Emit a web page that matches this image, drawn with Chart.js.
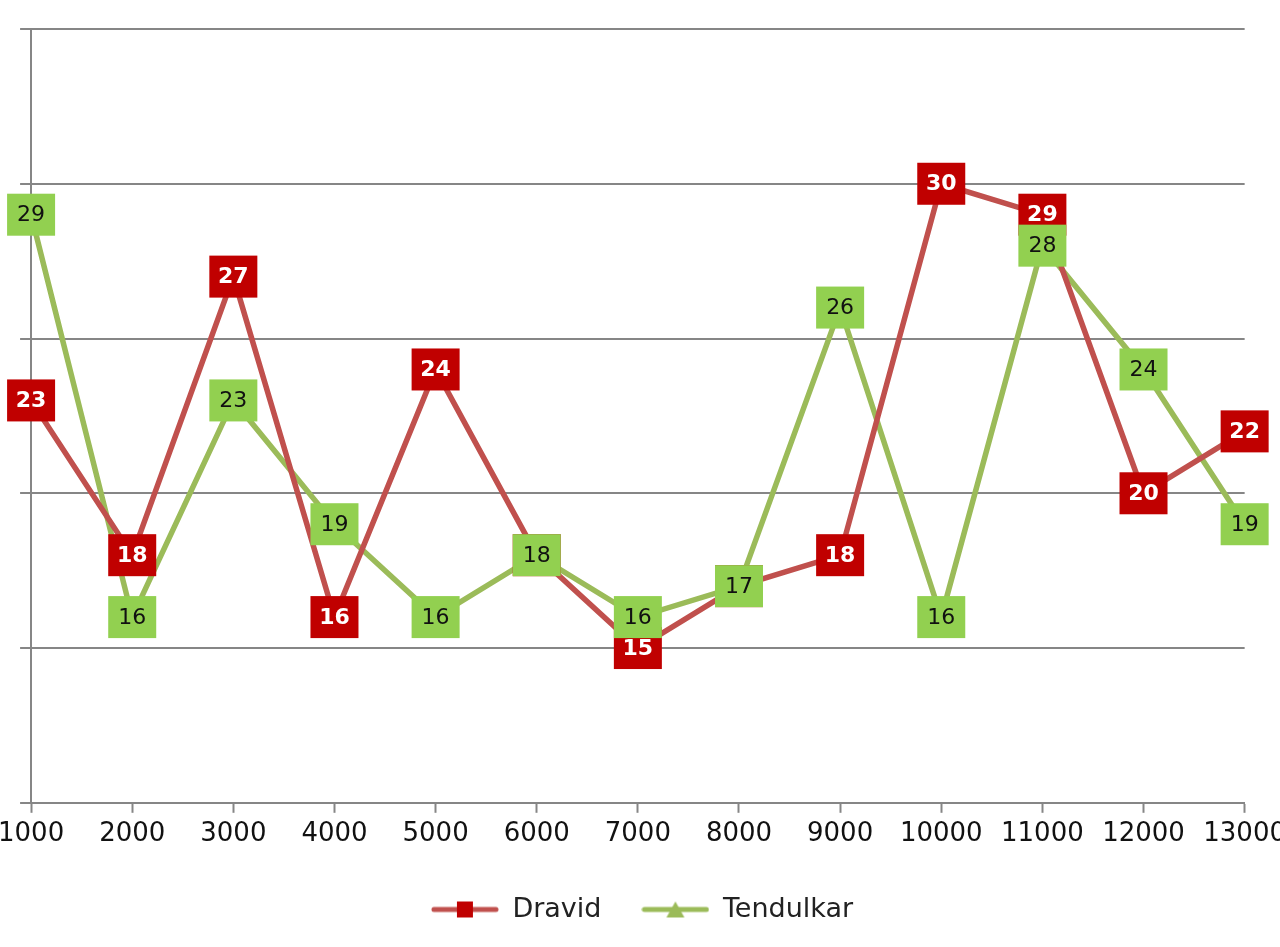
<!DOCTYPE html>
<html>
<head>
<meta charset="utf-8">
<script src="https://cdn.jsdelivr.net/npm/chart.js@4/dist/chart.umd.min.js"></script>
<style>
  html, body { margin: 0; padding: 0; background: #fff; overflow: hidden; }
  #wrap { width: 1280px; height: 947px; overflow: hidden; position: relative; }
  #chart { position: absolute; left: -8px; top: 0; }
</style>
</head>
<body>
<div id="wrap"><canvas id="chart" width="1300" height="947"></canvas></div>
<script>
// categories on the x axis
var runs = ['1000', '2000', '3000', '4000', '5000', '6000', '7000', '8000', '9000', '10000', '11000', '12000', '13000'];
// innings taken per 1000 runs
var dravid = [23, 18, 27, 16, 24, 18, 15, 17, 18, 30, 29, 20, 22];
var tendulkar = [29, 16, 23, 19, 16, 18, 16, 17, 26, 16, 28, 24, 19];

var redLine = '#C0504D', redBox = '#C00000';
var greenLine = '#9BBB59', greenBox = '#92D050';
var fontName = '"DejaVu Sans"';

// little pictures for the legend: line with marker
function legendIcon(lineColor, markColor, shape) {
    var c = document.createElement('canvas');
    c.width = 68; c.height = 22;
    var g = c.getContext('2d');
    g.strokeStyle = lineColor;
    g.lineWidth = 5;
    g.lineCap = 'round';
    g.beginPath();
    g.moveTo(3, 11); g.lineTo(65, 11);
    g.stroke();
    g.fillStyle = markColor;
    if (shape == 'square') {
        g.fillRect(26, 3, 16, 16);
    } else {
        g.beginPath();
        g.moveTo(34, 3); g.lineTo(43, 19); g.lineTo(25, 19);
        g.closePath();
        g.fill();
    }
    return c;
}

// boxes with the values, drawn over the lines
var boxLabels = {
    id: 'boxLabels',
    afterDatasetsDraw: function(chart) {
        var ctx = chart.ctx;
        chart.data.datasets.forEach(function(ds, di) {
            var meta = chart.getDatasetMeta(di);
            meta.data.forEach(function(pt, i) {
                var w = 48, h = 42;
                ctx.save();
                ctx.fillStyle = ds.boxColor;
                ctx.fillRect(pt.x - w / 2, pt.y - h / 2, w, h);
                ctx.fillStyle = ds.textColor;
                ctx.font = ds.textWeight + ' 22px ' + fontName;
                ctx.textAlign = 'center';
                ctx.textBaseline = 'middle';
                ctx.fillText(String(ds.data[i]), pt.x, pt.y + 1);
                ctx.restore();
            });
        });
    }
};

var ctx = document.getElementById('chart').getContext('2d');
var myChart = new Chart(ctx, {
    type: 'line',
    data: {
        labels: runs,
        datasets: [{
            label: 'Dravid',
            data: dravid,
            borderColor: redLine,
            backgroundColor: redBox,
            borderWidth: 5.5,
            pointRadius: 0,
            tension: 0,
            boxColor: redBox,
            textColor: '#ffffff',
            textWeight: 'bold',
            pointStyle: legendIcon(redLine, redBox, 'square')
        }, {
            label: 'Tendulkar',
            data: tendulkar,
            borderColor: greenLine,
            backgroundColor: greenBox,
            borderWidth: 5.5,
            pointRadius: 0,
            tension: 0,
            boxColor: greenBox,
            textColor: '#111111',
            textWeight: 'normal',
            pointStyle: legendIcon(greenLine, greenLine, 'triangle')
        }]
    },
    options: {
        responsive: false,
        animation: false,
        devicePixelRatio: 1,
        layout: { padding: { top: 29, left: 0, right: 0, bottom: 14 } },
        plugins: {
            tooltip: { enabled: false },
            legend: {
                position: 'bottom',
                labels: {
                    usePointStyle: true,
                    pointStyleWidth: 68,
                    color: '#222',
                    font: { family: fontName, size: 27 },
                    padding: 40
                }
            }
        },
        scales: {
            x: {
                offset: false,
                grid: {
                    drawOnChartArea: false,
                    drawTicks: true,
                    tickLength: 10,
                    tickColor: '#868686',
                    tickWidth: 2
                },
                border: { color: '#868686', width: 2 },
                ticks: {
                    color: '#111',
                    font: { family: fontName, size: 26 },
                    maxRotation: 0,
                    autoSkip: false,
                    padding: 6
                }
            },
            y: {
                min: 10,
                max: 35,
                ticks: { stepSize: 5, display: false },
                grid: {
                    color: '#868686',
                    lineWidth: 2,
                    drawTicks: true,
                    tickLength: 11,
                    tickColor: '#868686'
                },
                border: { color: '#868686', width: 2 }
            }
        }
    },
    plugins: [boxLabels]
});
</script>
</body>
</html>
